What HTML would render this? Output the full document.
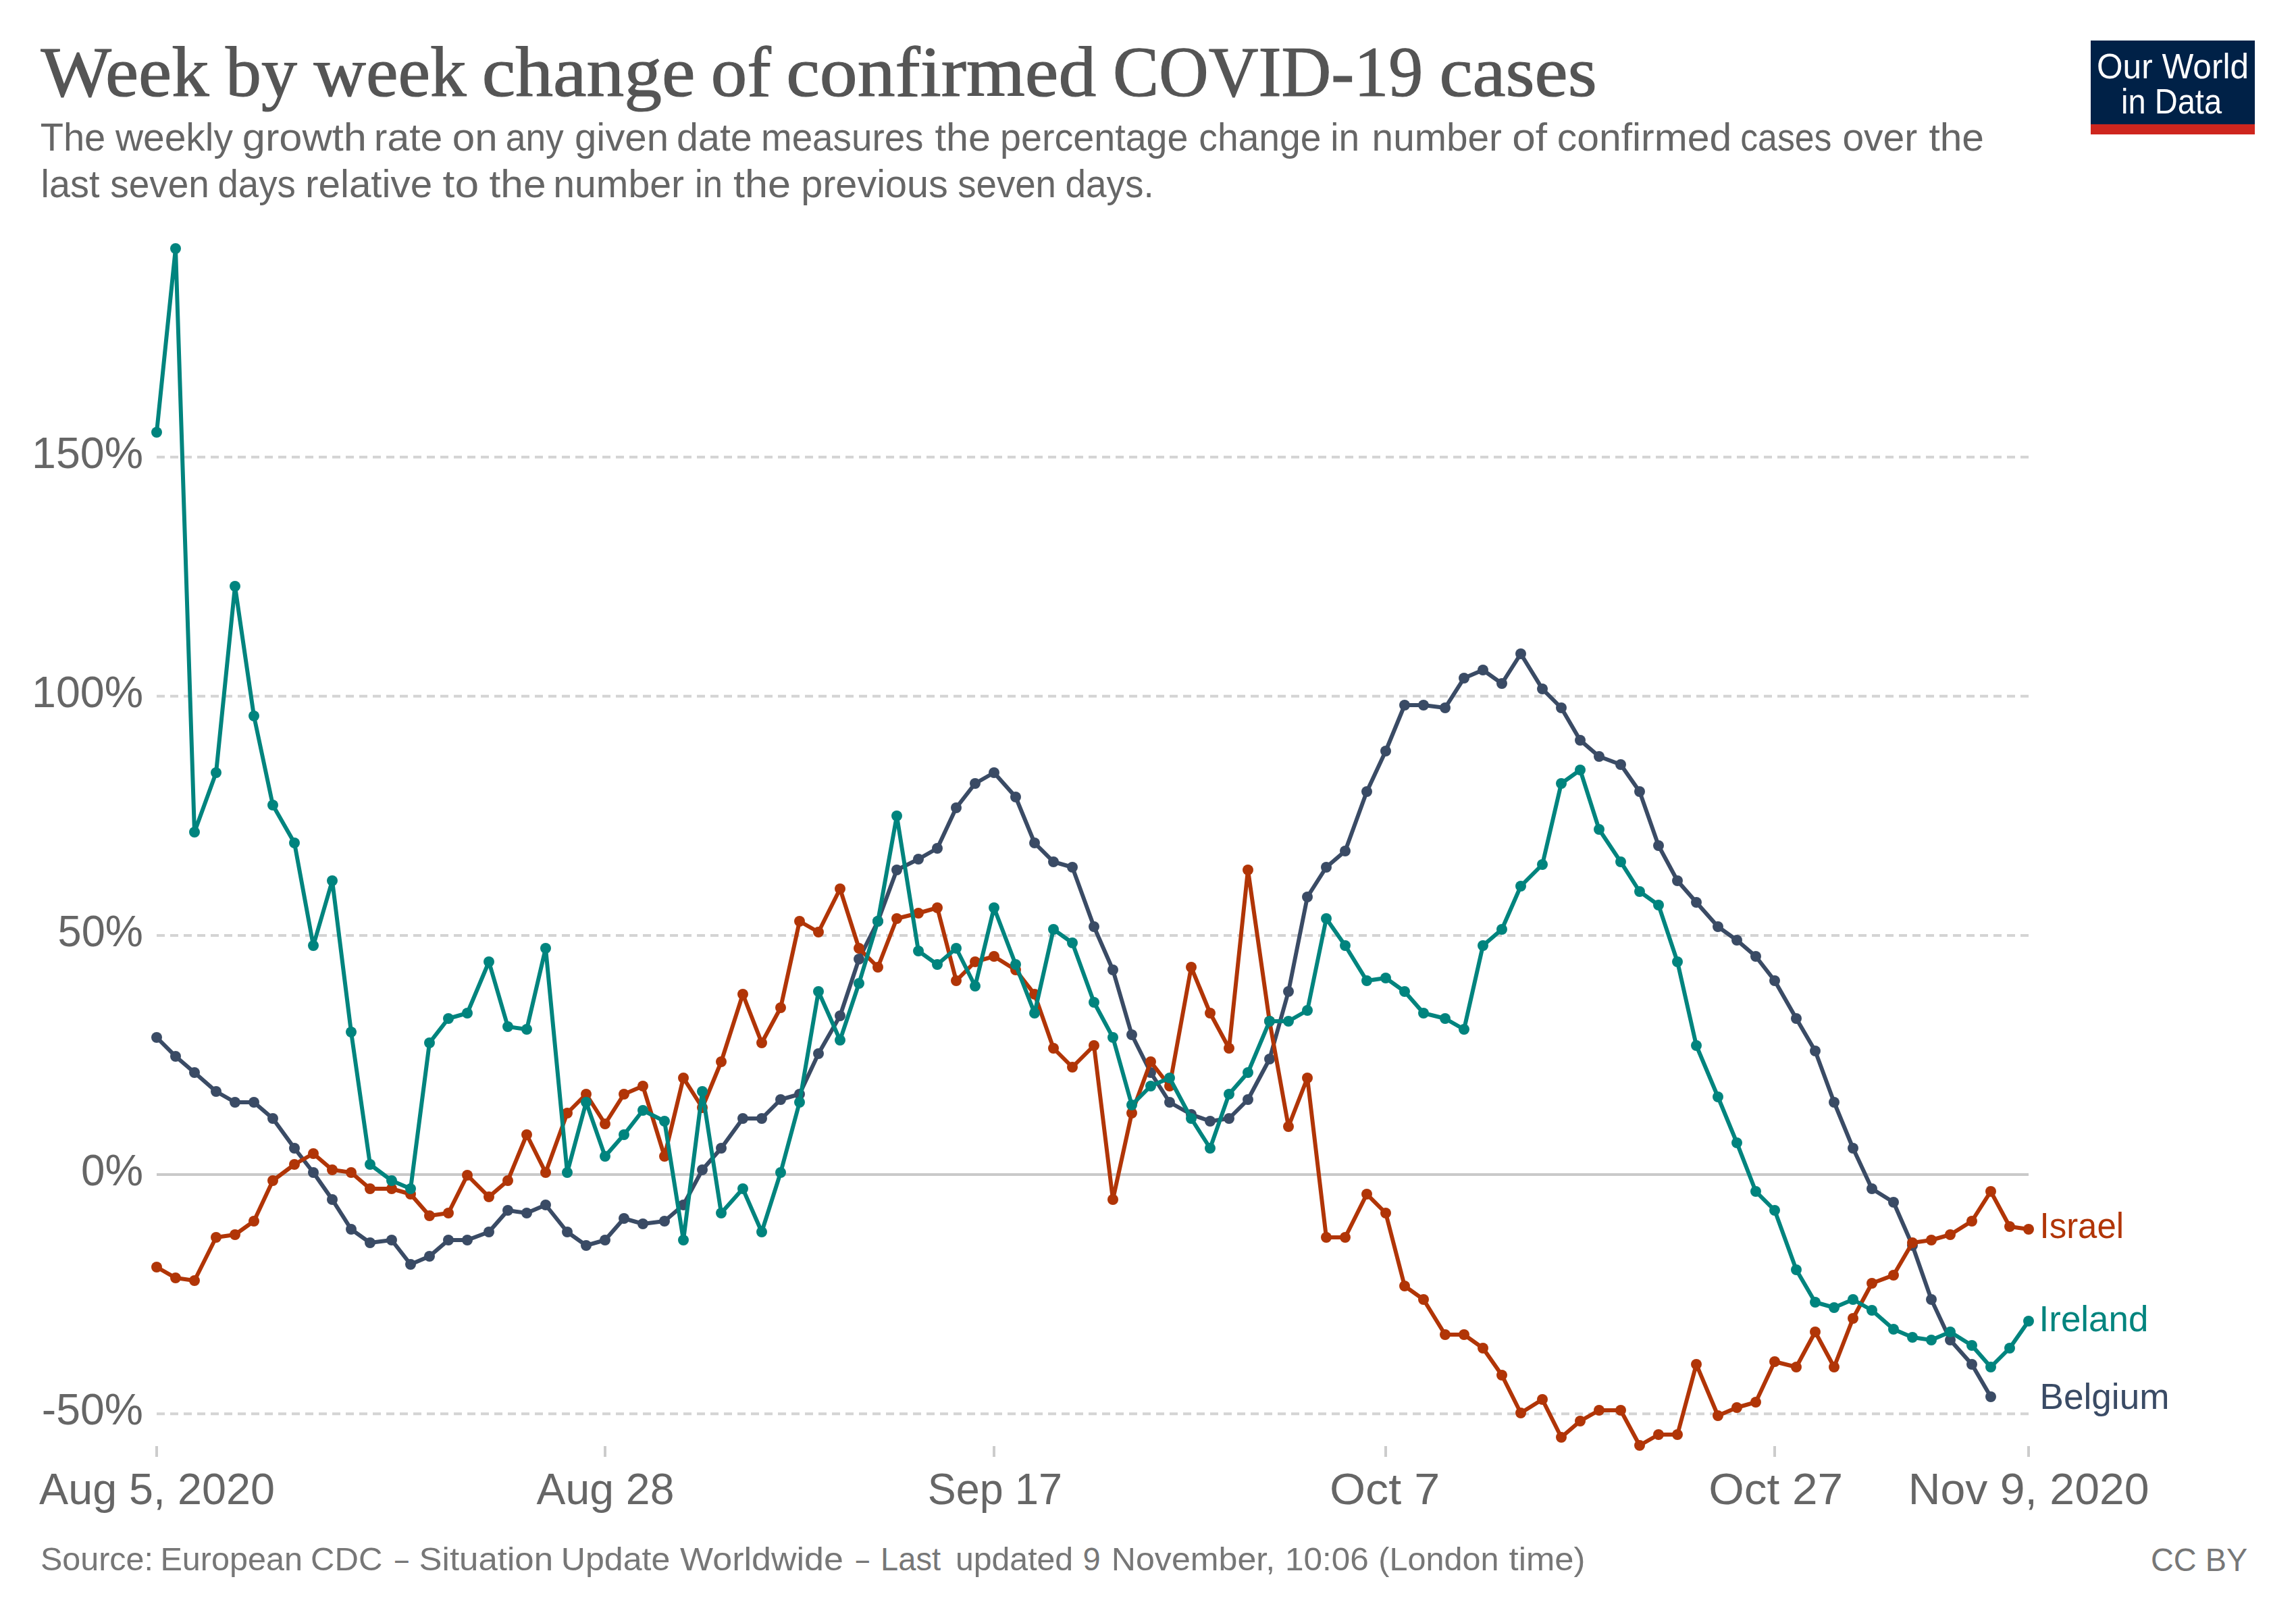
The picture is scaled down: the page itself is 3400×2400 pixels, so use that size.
<!DOCTYPE html>
<html><head><meta charset="utf-8"><title>Week by week change of confirmed COVID-19 cases</title>
<style>
html,body{margin:0;padding:0;background:#fff;overflow:hidden;width:3400px;height:2400px;}
svg{display:block;}
text{font-family:"Liberation Sans",sans-serif;}
.title{font-family:"Liberation Serif",serif;font-size:106px;fill:#555;stroke:#555;stroke-width:1.2px;}
.sub{font-size:57px;fill:#666;}
.ax{font-size:64px;fill:#666;}
.lab{font-size:53px;}
.foot{font-size:48.5px;fill:#777;}
.logo{font-size:52px;fill:#fff;}
</style></head><body>
<svg width="3400" height="2400" viewBox="0 0 3400 2400">
<rect width="3400" height="2400" fill="#fff"/>
<text class="title" y="142"><tspan x="60.4" textLength="249.1" lengthAdjust="spacingAndGlyphs">Week</tspan> <tspan x="334.1" textLength="105.9" lengthAdjust="spacingAndGlyphs">by</tspan> <tspan x="464.6" textLength="226.0" lengthAdjust="spacingAndGlyphs">week</tspan> <tspan x="713.8" textLength="315.8" lengthAdjust="spacingAndGlyphs">change</tspan> <tspan x="1052.8" textLength="89.0" lengthAdjust="spacingAndGlyphs">of</tspan> <tspan x="1164.2" textLength="459.1" lengthAdjust="spacingAndGlyphs">confirmed</tspan> <tspan x="1648.0" textLength="459.3" lengthAdjust="spacingAndGlyphs">COVID-19</tspan> <tspan x="2131.5" textLength="233.2" lengthAdjust="spacingAndGlyphs">cases</tspan></text>
<text class="sub" y="222.5"><tspan x="59.7" textLength="96.6" lengthAdjust="spacingAndGlyphs">The</tspan> <tspan x="170.9" textLength="174.0" lengthAdjust="spacingAndGlyphs">weekly</tspan> <tspan x="358.8" textLength="184.2" lengthAdjust="spacingAndGlyphs">growth</tspan> <tspan x="553.8" textLength="101.5" lengthAdjust="spacingAndGlyphs">rate</tspan> <tspan x="669.8" textLength="66.8" lengthAdjust="spacingAndGlyphs">on</tspan> <tspan x="748.7" textLength="86.1" lengthAdjust="spacingAndGlyphs">any</tspan> <tspan x="850.9" textLength="139.1" lengthAdjust="spacingAndGlyphs">given</tspan> <tspan x="1002.1" textLength="111.7" lengthAdjust="spacingAndGlyphs">date</tspan> <tspan x="1127.0" textLength="240.5" lengthAdjust="spacingAndGlyphs">measures</tspan> <tspan x="1384.6" textLength="82.4" lengthAdjust="spacingAndGlyphs">the</tspan> <tspan x="1481.0" textLength="278.5" lengthAdjust="spacingAndGlyphs">percentage</tspan> <tspan x="1775.3" textLength="181.2" lengthAdjust="spacingAndGlyphs">change</tspan> <tspan x="1970.2" textLength="42.8" lengthAdjust="spacingAndGlyphs">in</tspan> <tspan x="2031.6" textLength="192.3" lengthAdjust="spacingAndGlyphs">number</tspan> <tspan x="2239.2" textLength="51.8" lengthAdjust="spacingAndGlyphs">of</tspan> <tspan x="2305.8" textLength="258.3" lengthAdjust="spacingAndGlyphs">confirmed</tspan> <tspan x="2577.2" textLength="135.3" lengthAdjust="spacingAndGlyphs">cases</tspan> <tspan x="2728.4" textLength="110.8" lengthAdjust="spacingAndGlyphs">over</tspan> <tspan x="2856.4" textLength="81.6" lengthAdjust="spacingAndGlyphs">the</tspan></text>
<text class="sub" y="292"><tspan x="60.5" textLength="86.9" lengthAdjust="spacingAndGlyphs">last</tspan> <tspan x="163.2" textLength="146.6" lengthAdjust="spacingAndGlyphs">seven</tspan> <tspan x="322.4" textLength="115.4" lengthAdjust="spacingAndGlyphs">days</tspan> <tspan x="452.0" textLength="188.2" lengthAdjust="spacingAndGlyphs">relative</tspan> <tspan x="655.6" textLength="53.6" lengthAdjust="spacingAndGlyphs">to</tspan> <tspan x="724.5" textLength="84.0" lengthAdjust="spacingAndGlyphs">the</tspan> <tspan x="819.2" textLength="193.8" lengthAdjust="spacingAndGlyphs">number</tspan> <tspan x="1029.0" textLength="41.0" lengthAdjust="spacingAndGlyphs">in</tspan> <tspan x="1086.0" textLength="85.0" lengthAdjust="spacingAndGlyphs">the</tspan> <tspan x="1186.2" textLength="217.6" lengthAdjust="spacingAndGlyphs">previous</tspan> <tspan x="1418.2" textLength="145.8" lengthAdjust="spacingAndGlyphs">seven</tspan> <tspan x="1577.4" textLength="131.3" lengthAdjust="spacingAndGlyphs">days.</tspan></text>

<g><rect x="3096" y="60" width="243" height="139" fill="#002147"/><rect x="3096" y="184" width="243" height="15" fill="#ce261e"/>
<text class="logo" y="116"><tspan x="3105.0" textLength="225.0" lengthAdjust="spacingAndGlyphs">Our World</tspan></text>
<text class="logo" y="168"><tspan x="3141.1" textLength="149.0" lengthAdjust="spacingAndGlyphs">in Data</tspan></text>
</g>
<line x1="232" x2="3004" y1="676.65" y2="676.65" stroke="#d4d4d4" stroke-width="4" stroke-dasharray="12 8"/>
<line x1="232" x2="3004" y1="1030.8" y2="1030.8" stroke="#d4d4d4" stroke-width="4" stroke-dasharray="12 8"/>
<line x1="232" x2="3004" y1="1384.95" y2="1384.95" stroke="#d4d4d4" stroke-width="4" stroke-dasharray="12 8"/>
<line x1="232" x2="3004" y1="2093.25" y2="2093.25" stroke="#d4d4d4" stroke-width="4" stroke-dasharray="12 8"/>
<line x1="232" x2="3004" y1="1739.1" y2="1739.1" stroke="#c9c9c9" stroke-width="4"/>
<line x1="232" x2="232" y1="2141" y2="2157" stroke="#ccc" stroke-width="4"/>
<line x1="896" x2="896" y1="2141" y2="2157" stroke="#ccc" stroke-width="4"/>
<line x1="1472" x2="1472" y1="2141" y2="2157" stroke="#ccc" stroke-width="4"/>
<line x1="2052" x2="2052" y1="2141" y2="2157" stroke="#ccc" stroke-width="4"/>
<line x1="2628" x2="2628" y1="2141" y2="2157" stroke="#ccc" stroke-width="4"/>
<line x1="3004" x2="3004" y1="2141" y2="2157" stroke="#ccc" stroke-width="4"/>
<text class="ax" y="692.5"><tspan x="47.0" textLength="165.0" lengthAdjust="spacingAndGlyphs">150%</tspan></text>
<text class="ax" y="1046.5"><tspan x="47.0" textLength="165.1" lengthAdjust="spacingAndGlyphs">100%</tspan></text>
<text class="ax" y="1400.5"><tspan x="85.6" textLength="126.4" lengthAdjust="spacingAndGlyphs">50%</tspan></text>
<text class="ax" y="1754.5"><tspan x="120.0" textLength="92.0" lengthAdjust="spacingAndGlyphs">0%</tspan></text>
<text class="ax" y="2108.5"><tspan x="61.8" textLength="150.2" lengthAdjust="spacingAndGlyphs">-50%</tspan></text>
<text class="ax" y="2226.5"><tspan x="58.0" textLength="349.0" lengthAdjust="spacingAndGlyphs">Aug 5, 2020</tspan></text>
<text class="ax" y="2226.5"><tspan x="794.6" textLength="203.8" lengthAdjust="spacingAndGlyphs">Aug 28</tspan></text>
<text class="ax" y="2226.5"><tspan x="1373.8" textLength="199.2" lengthAdjust="spacingAndGlyphs">Sep 17</tspan></text>
<text class="ax" y="2226.5"><tspan x="1969.0" textLength="163.2" lengthAdjust="spacingAndGlyphs">Oct 7</tspan></text>
<text class="ax" y="2226.5"><tspan x="2530.2" textLength="199.0" lengthAdjust="spacingAndGlyphs">Oct 27</tspan></text>
<text class="ax" y="2226.5"><tspan x="2825.8" textLength="356.7" lengthAdjust="spacingAndGlyphs">Nov 9, 2020</tspan></text>

<g fill="#3a4b65"><polyline points="232,1536 260,1564 288,1588 320,1616 348,1632 376,1632 404,1656 436,1700 464,1736 492,1776 520,1820 548,1840 580,1836 608,1872 636,1860 664,1836 692,1836 724,1824 752,1792 780,1796 808,1784 840,1824 868,1844 896,1836 924,1804 952,1812 984,1808 1012,1784 1040,1732 1068,1700 1100,1656 1128,1656 1156,1628 1184,1620 1212,1560 1244,1504 1272,1420 1300,1364 1328,1288 1360,1272 1388,1256 1416,1196 1444,1160 1472,1144 1504,1180 1532,1248 1560,1276 1588,1284 1620,1372 1648,1436 1676,1532 1704,1588 1732,1632 1764,1650 1792,1660 1820,1656 1848,1628 1880,1568 1908,1468 1936,1328 1964,1284 1992,1260 2024,1172 2052,1112 2080,1044 2108,1044 2140,1048 2168,1004 2196,992 2224,1012 2252,968 2284,1020 2312,1048 2340,1096 2368,1120 2400,1132 2428,1172 2456,1252 2484,1304 2512,1336 2544,1372 2572,1392 2600,1416 2628,1452 2660,1508 2688,1556 2716,1632 2744,1700 2772,1760 2804,1780 2832,1844 2860,1924 2888,1984 2920,2020 2948,2068" fill="none" stroke="#3a4b65" stroke-width="6" stroke-linejoin="round" stroke-linecap="round"/><circle cx="232" cy="1536" r="8"/><circle cx="260" cy="1564" r="8"/><circle cx="288" cy="1588" r="8"/><circle cx="320" cy="1616" r="8"/><circle cx="348" cy="1632" r="8"/><circle cx="376" cy="1632" r="8"/><circle cx="404" cy="1656" r="8"/><circle cx="436" cy="1700" r="8"/><circle cx="464" cy="1736" r="8"/><circle cx="492" cy="1776" r="8"/><circle cx="520" cy="1820" r="8"/><circle cx="548" cy="1840" r="8"/><circle cx="580" cy="1836" r="8"/><circle cx="608" cy="1872" r="8"/><circle cx="636" cy="1860" r="8"/><circle cx="664" cy="1836" r="8"/><circle cx="692" cy="1836" r="8"/><circle cx="724" cy="1824" r="8"/><circle cx="752" cy="1792" r="8"/><circle cx="780" cy="1796" r="8"/><circle cx="808" cy="1784" r="8"/><circle cx="840" cy="1824" r="8"/><circle cx="868" cy="1844" r="8"/><circle cx="896" cy="1836" r="8"/><circle cx="924" cy="1804" r="8"/><circle cx="952" cy="1812" r="8"/><circle cx="984" cy="1808" r="8"/><circle cx="1012" cy="1784" r="8"/><circle cx="1040" cy="1732" r="8"/><circle cx="1068" cy="1700" r="8"/><circle cx="1100" cy="1656" r="8"/><circle cx="1128" cy="1656" r="8"/><circle cx="1156" cy="1628" r="8"/><circle cx="1184" cy="1620" r="8"/><circle cx="1212" cy="1560" r="8"/><circle cx="1244" cy="1504" r="8"/><circle cx="1272" cy="1420" r="8"/><circle cx="1300" cy="1364" r="8"/><circle cx="1328" cy="1288" r="8"/><circle cx="1360" cy="1272" r="8"/><circle cx="1388" cy="1256" r="8"/><circle cx="1416" cy="1196" r="8"/><circle cx="1444" cy="1160" r="8"/><circle cx="1472" cy="1144" r="8"/><circle cx="1504" cy="1180" r="8"/><circle cx="1532" cy="1248" r="8"/><circle cx="1560" cy="1276" r="8"/><circle cx="1588" cy="1284" r="8"/><circle cx="1620" cy="1372" r="8"/><circle cx="1648" cy="1436" r="8"/><circle cx="1676" cy="1532" r="8"/><circle cx="1704" cy="1588" r="8"/><circle cx="1732" cy="1632" r="8"/><circle cx="1764" cy="1650" r="8"/><circle cx="1792" cy="1660" r="8"/><circle cx="1820" cy="1656" r="8"/><circle cx="1848" cy="1628" r="8"/><circle cx="1880" cy="1568" r="8"/><circle cx="1908" cy="1468" r="8"/><circle cx="1936" cy="1328" r="8"/><circle cx="1964" cy="1284" r="8"/><circle cx="1992" cy="1260" r="8"/><circle cx="2024" cy="1172" r="8"/><circle cx="2052" cy="1112" r="8"/><circle cx="2080" cy="1044" r="8"/><circle cx="2108" cy="1044" r="8"/><circle cx="2140" cy="1048" r="8"/><circle cx="2168" cy="1004" r="8"/><circle cx="2196" cy="992" r="8"/><circle cx="2224" cy="1012" r="8"/><circle cx="2252" cy="968" r="8"/><circle cx="2284" cy="1020" r="8"/><circle cx="2312" cy="1048" r="8"/><circle cx="2340" cy="1096" r="8"/><circle cx="2368" cy="1120" r="8"/><circle cx="2400" cy="1132" r="8"/><circle cx="2428" cy="1172" r="8"/><circle cx="2456" cy="1252" r="8"/><circle cx="2484" cy="1304" r="8"/><circle cx="2512" cy="1336" r="8"/><circle cx="2544" cy="1372" r="8"/><circle cx="2572" cy="1392" r="8"/><circle cx="2600" cy="1416" r="8"/><circle cx="2628" cy="1452" r="8"/><circle cx="2660" cy="1508" r="8"/><circle cx="2688" cy="1556" r="8"/><circle cx="2716" cy="1632" r="8"/><circle cx="2744" cy="1700" r="8"/><circle cx="2772" cy="1760" r="8"/><circle cx="2804" cy="1780" r="8"/><circle cx="2832" cy="1844" r="8"/><circle cx="2860" cy="1924" r="8"/><circle cx="2888" cy="1984" r="8"/><circle cx="2920" cy="2020" r="8"/><circle cx="2948" cy="2068" r="8"/></g>
<g fill="#b13507"><polyline points="232,1876 260,1892 288,1896 320,1832 348,1828 376,1808 404,1748 436,1724 464,1708 492,1732 520,1736 548,1760 580,1760 608,1768 636,1800 664,1796 692,1740 724,1772 752,1748 780,1680 808,1736 840,1648 868,1620 896,1664 924,1620 952,1608 984,1712 1012,1596 1040,1640 1068,1572 1100,1472 1128,1544 1156,1492 1184,1364 1212,1380 1244,1316 1272,1404 1300,1432 1328,1360 1360,1352 1388,1344 1416,1452 1444,1424 1472,1416 1504,1436 1532,1472 1560,1552 1588,1580 1620,1548 1648,1776 1676,1648 1704,1572 1732,1608 1764,1432 1792,1500 1820,1552 1848,1288 1880,1512 1908,1668 1936,1596 1964,1832 1992,1832 2024,1768 2052,1796 2080,1904 2108,1924 2140,1976 2168,1976 2196,1996 2224,2036 2252,2092 2284,2072 2312,2128 2340,2104 2368,2088 2400,2088 2428,2140 2456,2124 2484,2124 2512,2020 2544,2096 2572,2084 2600,2076 2628,2016 2660,2024 2688,1972 2716,2024 2744,1952 2772,1900 2804,1888 2832,1840 2860,1836 2888,1828 2920,1808 2948,1764 2976,1816 3004,1820" fill="none" stroke="#b13507" stroke-width="6" stroke-linejoin="round" stroke-linecap="round"/><circle cx="232" cy="1876" r="8"/><circle cx="260" cy="1892" r="8"/><circle cx="288" cy="1896" r="8"/><circle cx="320" cy="1832" r="8"/><circle cx="348" cy="1828" r="8"/><circle cx="376" cy="1808" r="8"/><circle cx="404" cy="1748" r="8"/><circle cx="436" cy="1724" r="8"/><circle cx="464" cy="1708" r="8"/><circle cx="492" cy="1732" r="8"/><circle cx="520" cy="1736" r="8"/><circle cx="548" cy="1760" r="8"/><circle cx="580" cy="1760" r="8"/><circle cx="608" cy="1768" r="8"/><circle cx="636" cy="1800" r="8"/><circle cx="664" cy="1796" r="8"/><circle cx="692" cy="1740" r="8"/><circle cx="724" cy="1772" r="8"/><circle cx="752" cy="1748" r="8"/><circle cx="780" cy="1680" r="8"/><circle cx="808" cy="1736" r="8"/><circle cx="840" cy="1648" r="8"/><circle cx="868" cy="1620" r="8"/><circle cx="896" cy="1664" r="8"/><circle cx="924" cy="1620" r="8"/><circle cx="952" cy="1608" r="8"/><circle cx="984" cy="1712" r="8"/><circle cx="1012" cy="1596" r="8"/><circle cx="1040" cy="1640" r="8"/><circle cx="1068" cy="1572" r="8"/><circle cx="1100" cy="1472" r="8"/><circle cx="1128" cy="1544" r="8"/><circle cx="1156" cy="1492" r="8"/><circle cx="1184" cy="1364" r="8"/><circle cx="1212" cy="1380" r="8"/><circle cx="1244" cy="1316" r="8"/><circle cx="1272" cy="1404" r="8"/><circle cx="1300" cy="1432" r="8"/><circle cx="1328" cy="1360" r="8"/><circle cx="1360" cy="1352" r="8"/><circle cx="1388" cy="1344" r="8"/><circle cx="1416" cy="1452" r="8"/><circle cx="1444" cy="1424" r="8"/><circle cx="1472" cy="1416" r="8"/><circle cx="1504" cy="1436" r="8"/><circle cx="1532" cy="1472" r="8"/><circle cx="1560" cy="1552" r="8"/><circle cx="1588" cy="1580" r="8"/><circle cx="1620" cy="1548" r="8"/><circle cx="1648" cy="1776" r="8"/><circle cx="1676" cy="1648" r="8"/><circle cx="1704" cy="1572" r="8"/><circle cx="1732" cy="1608" r="8"/><circle cx="1764" cy="1432" r="8"/><circle cx="1792" cy="1500" r="8"/><circle cx="1820" cy="1552" r="8"/><circle cx="1848" cy="1288" r="8"/><circle cx="1880" cy="1512" r="8"/><circle cx="1908" cy="1668" r="8"/><circle cx="1936" cy="1596" r="8"/><circle cx="1964" cy="1832" r="8"/><circle cx="1992" cy="1832" r="8"/><circle cx="2024" cy="1768" r="8"/><circle cx="2052" cy="1796" r="8"/><circle cx="2080" cy="1904" r="8"/><circle cx="2108" cy="1924" r="8"/><circle cx="2140" cy="1976" r="8"/><circle cx="2168" cy="1976" r="8"/><circle cx="2196" cy="1996" r="8"/><circle cx="2224" cy="2036" r="8"/><circle cx="2252" cy="2092" r="8"/><circle cx="2284" cy="2072" r="8"/><circle cx="2312" cy="2128" r="8"/><circle cx="2340" cy="2104" r="8"/><circle cx="2368" cy="2088" r="8"/><circle cx="2400" cy="2088" r="8"/><circle cx="2428" cy="2140" r="8"/><circle cx="2456" cy="2124" r="8"/><circle cx="2484" cy="2124" r="8"/><circle cx="2512" cy="2020" r="8"/><circle cx="2544" cy="2096" r="8"/><circle cx="2572" cy="2084" r="8"/><circle cx="2600" cy="2076" r="8"/><circle cx="2628" cy="2016" r="8"/><circle cx="2660" cy="2024" r="8"/><circle cx="2688" cy="1972" r="8"/><circle cx="2716" cy="2024" r="8"/><circle cx="2744" cy="1952" r="8"/><circle cx="2772" cy="1900" r="8"/><circle cx="2804" cy="1888" r="8"/><circle cx="2832" cy="1840" r="8"/><circle cx="2860" cy="1836" r="8"/><circle cx="2888" cy="1828" r="8"/><circle cx="2920" cy="1808" r="8"/><circle cx="2948" cy="1764" r="8"/><circle cx="2976" cy="1816" r="8"/><circle cx="3004" cy="1820" r="8"/></g>
<g fill="#00847e"><polyline points="232,640 260,368 288,1232 320,1144 348,868 376,1060 404,1192 436,1248 464,1400 492,1304 520,1528 548,1724 580,1748 608,1760 636,1544 664,1508 692,1500 724,1424 752,1520 780,1524 808,1404 840,1736 868,1632 896,1712 924,1680 952,1644 984,1660 1012,1836 1040,1616 1068,1796 1100,1760 1128,1824 1156,1736 1184,1632 1212,1468 1244,1540 1272,1456 1300,1364 1328,1208 1360,1408 1388,1428 1416,1404 1444,1460 1472,1344 1504,1428 1532,1500 1560,1376 1588,1396 1620,1484 1648,1536 1676,1636 1704,1608 1732,1596 1764,1656 1792,1700 1820,1620 1848,1588 1880,1512 1908,1512 1936,1496 1964,1360 1992,1400 2024,1452 2052,1448 2080,1468 2108,1500 2140,1508 2168,1524 2196,1400 2224,1376 2252,1312 2284,1280 2312,1160 2340,1140 2368,1228 2400,1276 2428,1320 2456,1340 2484,1424 2512,1548 2544,1624 2572,1692 2600,1764 2628,1792 2660,1880 2688,1928 2716,1936 2744,1924 2772,1940 2804,1968 2832,1980 2860,1984 2888,1972 2920,1992 2948,2024 2976,1996 3004,1956" fill="none" stroke="#00847e" stroke-width="6" stroke-linejoin="round" stroke-linecap="round"/><circle cx="232" cy="640" r="8"/><circle cx="260" cy="368" r="8"/><circle cx="288" cy="1232" r="8"/><circle cx="320" cy="1144" r="8"/><circle cx="348" cy="868" r="8"/><circle cx="376" cy="1060" r="8"/><circle cx="404" cy="1192" r="8"/><circle cx="436" cy="1248" r="8"/><circle cx="464" cy="1400" r="8"/><circle cx="492" cy="1304" r="8"/><circle cx="520" cy="1528" r="8"/><circle cx="548" cy="1724" r="8"/><circle cx="580" cy="1748" r="8"/><circle cx="608" cy="1760" r="8"/><circle cx="636" cy="1544" r="8"/><circle cx="664" cy="1508" r="8"/><circle cx="692" cy="1500" r="8"/><circle cx="724" cy="1424" r="8"/><circle cx="752" cy="1520" r="8"/><circle cx="780" cy="1524" r="8"/><circle cx="808" cy="1404" r="8"/><circle cx="840" cy="1736" r="8"/><circle cx="868" cy="1632" r="8"/><circle cx="896" cy="1712" r="8"/><circle cx="924" cy="1680" r="8"/><circle cx="952" cy="1644" r="8"/><circle cx="984" cy="1660" r="8"/><circle cx="1012" cy="1836" r="8"/><circle cx="1040" cy="1616" r="8"/><circle cx="1068" cy="1796" r="8"/><circle cx="1100" cy="1760" r="8"/><circle cx="1128" cy="1824" r="8"/><circle cx="1156" cy="1736" r="8"/><circle cx="1184" cy="1632" r="8"/><circle cx="1212" cy="1468" r="8"/><circle cx="1244" cy="1540" r="8"/><circle cx="1272" cy="1456" r="8"/><circle cx="1300" cy="1364" r="8"/><circle cx="1328" cy="1208" r="8"/><circle cx="1360" cy="1408" r="8"/><circle cx="1388" cy="1428" r="8"/><circle cx="1416" cy="1404" r="8"/><circle cx="1444" cy="1460" r="8"/><circle cx="1472" cy="1344" r="8"/><circle cx="1504" cy="1428" r="8"/><circle cx="1532" cy="1500" r="8"/><circle cx="1560" cy="1376" r="8"/><circle cx="1588" cy="1396" r="8"/><circle cx="1620" cy="1484" r="8"/><circle cx="1648" cy="1536" r="8"/><circle cx="1676" cy="1636" r="8"/><circle cx="1704" cy="1608" r="8"/><circle cx="1732" cy="1596" r="8"/><circle cx="1764" cy="1656" r="8"/><circle cx="1792" cy="1700" r="8"/><circle cx="1820" cy="1620" r="8"/><circle cx="1848" cy="1588" r="8"/><circle cx="1880" cy="1512" r="8"/><circle cx="1908" cy="1512" r="8"/><circle cx="1936" cy="1496" r="8"/><circle cx="1964" cy="1360" r="8"/><circle cx="1992" cy="1400" r="8"/><circle cx="2024" cy="1452" r="8"/><circle cx="2052" cy="1448" r="8"/><circle cx="2080" cy="1468" r="8"/><circle cx="2108" cy="1500" r="8"/><circle cx="2140" cy="1508" r="8"/><circle cx="2168" cy="1524" r="8"/><circle cx="2196" cy="1400" r="8"/><circle cx="2224" cy="1376" r="8"/><circle cx="2252" cy="1312" r="8"/><circle cx="2284" cy="1280" r="8"/><circle cx="2312" cy="1160" r="8"/><circle cx="2340" cy="1140" r="8"/><circle cx="2368" cy="1228" r="8"/><circle cx="2400" cy="1276" r="8"/><circle cx="2428" cy="1320" r="8"/><circle cx="2456" cy="1340" r="8"/><circle cx="2484" cy="1424" r="8"/><circle cx="2512" cy="1548" r="8"/><circle cx="2544" cy="1624" r="8"/><circle cx="2572" cy="1692" r="8"/><circle cx="2600" cy="1764" r="8"/><circle cx="2628" cy="1792" r="8"/><circle cx="2660" cy="1880" r="8"/><circle cx="2688" cy="1928" r="8"/><circle cx="2716" cy="1936" r="8"/><circle cx="2744" cy="1924" r="8"/><circle cx="2772" cy="1940" r="8"/><circle cx="2804" cy="1968" r="8"/><circle cx="2832" cy="1980" r="8"/><circle cx="2860" cy="1984" r="8"/><circle cx="2888" cy="1972" r="8"/><circle cx="2920" cy="1992" r="8"/><circle cx="2948" cy="2024" r="8"/><circle cx="2976" cy="1996" r="8"/><circle cx="3004" cy="1956" r="8"/></g>

<text class="lab" y="1833.4" fill="#b13507"><tspan x="3020.6" textLength="124.4" lengthAdjust="spacingAndGlyphs">Israel</tspan></text>
<text class="lab" y="1970.6" fill="#00847e"><tspan x="3019.6" textLength="161.8" lengthAdjust="spacingAndGlyphs">Ireland</tspan></text>
<text class="lab" y="2085.6" fill="#3a4b65"><tspan x="3020.6" textLength="191.8" lengthAdjust="spacingAndGlyphs">Belgium</tspan></text>
<text class="foot" y="2325"><tspan x="60.0" textLength="167.0" lengthAdjust="spacingAndGlyphs">Source:</tspan> <tspan x="237.4" textLength="210.6" lengthAdjust="spacingAndGlyphs">European</tspan> <tspan x="460.1" textLength="106.3" lengthAdjust="spacingAndGlyphs">CDC</tspan> <tspan x="585.0" textLength="19.7" lengthAdjust="spacingAndGlyphs">–</tspan> <tspan x="620.6" textLength="198.4" lengthAdjust="spacingAndGlyphs">Situation</tspan> <tspan x="830.8" textLength="161.6" lengthAdjust="spacingAndGlyphs">Update</tspan> <tspan x="1007.1" textLength="241.9" lengthAdjust="spacingAndGlyphs">Worldwide</tspan> <tspan x="1267.7" textLength="19.1" lengthAdjust="spacingAndGlyphs">–</tspan> <tspan x="1304.1" textLength="89.0" lengthAdjust="spacingAndGlyphs">Last</tspan> <tspan x="1414.9" textLength="174.3" lengthAdjust="spacingAndGlyphs">updated</tspan> <tspan x="1603.6" textLength="26.2" lengthAdjust="spacingAndGlyphs">9</tspan> <tspan x="1645.8" textLength="242.3" lengthAdjust="spacingAndGlyphs">November,</tspan> <tspan x="1902.9" textLength="123.9" lengthAdjust="spacingAndGlyphs">10:06</tspan> <tspan x="2041.3" textLength="178.2" lengthAdjust="spacingAndGlyphs">(London</tspan> <tspan x="2234.6" textLength="112.9" lengthAdjust="spacingAndGlyphs">time)</tspan></text>

<text class="foot" y="2325.5"><tspan x="3185.0" textLength="143.2" lengthAdjust="spacingAndGlyphs">CC BY</tspan></text>
</svg>
</body></html>
